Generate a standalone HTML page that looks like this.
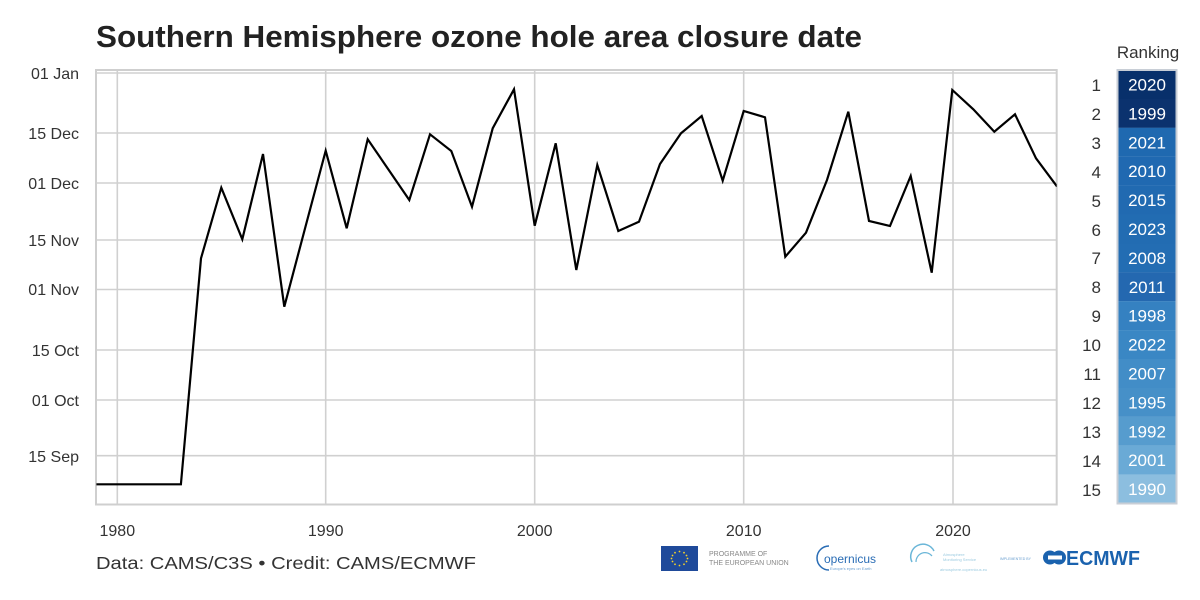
<!DOCTYPE html>
<html><head><meta charset="utf-8"><style>
html,body{margin:0;padding:0;background:#fff;}
svg{display:block;}
text{font-family:"Liberation Sans",Arial,sans-serif;}
</style></head><body>
<svg width="1200" height="600" viewBox="0 0 1200 600" xmlns="http://www.w3.org/2000/svg">
<rect width="1200" height="600" fill="#fff"/>
<text x="96" y="47" font-size="31" font-weight="bold" fill="#222" textLength="766" lengthAdjust="spacingAndGlyphs">Southern Hemisphere ozone hole area closure date</text>

<!-- gridlines -->
<g stroke="#d0d0d0" stroke-width="1.6" fill="none">
<line x1="96" y1="73" x2="1057" y2="73"/>
<line x1="96" y1="133" x2="1057" y2="133"/>
<line x1="96" y1="183" x2="1057" y2="183"/>
<line x1="96" y1="240" x2="1057" y2="240"/>
<line x1="96" y1="289.5" x2="1057" y2="289.5"/>
<line x1="96" y1="350" x2="1057" y2="350"/>
<line x1="96" y1="400" x2="1057" y2="400"/>
<line x1="96" y1="455.7" x2="1057" y2="455.7"/>
<line x1="117.3" y1="70" x2="117.3" y2="504.5"/>
<line x1="325.7" y1="70" x2="325.7" y2="504.5"/>
<line x1="534.7" y1="70" x2="534.7" y2="504.5"/>
<line x1="743.7" y1="70" x2="743.7" y2="504.5"/>
<line x1="953" y1="70" x2="953" y2="504.5"/>
</g>
<rect x="96" y="70" width="960.7" height="434.5" fill="none" stroke="#cfcfcf" stroke-width="2"/>

<!-- y labels -->
<g font-size="16" fill="#333" text-anchor="end">
<text x="79" y="79">01 Jan</text>
<text x="79" y="139">15 Dec</text>
<text x="79" y="189">01 Dec</text>
<text x="79" y="246">15 Nov</text>
<text x="79" y="295">01 Nov</text>
<text x="79" y="356">15 Oct</text>
<text x="79" y="406">01 Oct</text>
<text x="79" y="462">15 Sep</text>
</g>
<!-- x labels -->
<g font-size="16" fill="#333" text-anchor="middle">
<text x="117.3" y="536">1980</text>
<text x="325.7" y="536">1990</text>
<text x="534.7" y="536">2000</text>
<text x="743.7" y="536">2010</text>
<text x="953" y="536">2020</text>
</g>

<clipPath id="pc"><rect x="96" y="70" width="960.7" height="434.5"/></clipPath>
<polyline clip-path="url(#pc)" fill="none" stroke="#000" stroke-width="2.2" stroke-linejoin="miter" points="
96.4,484.3 180.9,484.3 201,258.3 221.3,187.7 242.3,239.3 263,154 284.3,306.7 305.4,227 325.7,150.7 346.7,228.3 367.7,139.3 388.6,169.7 409.3,200 430,134.3 451.3,151 472,206.7 492.7,128.3 514,89.3 534.7,225.7 555.7,143.3 576.3,270 597.3,165 618.3,231 639,221.7 660,164 681,133.3 701.7,116 722.7,180.7 743.7,111 765,117.3 785.3,256.7 806,232.7 827,180 848.3,111.7 869,221 890,226 910.7,176 931.7,272.7 952.3,90 973.3,109.3 994.3,131.7 1015,114.3 1036,158.3 1057,186.5"/>

<!-- footer -->
<text x="96" y="569" font-size="17.5" fill="#333" textLength="380" lengthAdjust="spacingAndGlyphs">Data: CAMS/C3S • Credit: CAMS/ECMWF</text>

<!-- Ranking -->
<text x="1148" y="58" font-size="17" fill="#333" text-anchor="middle">Ranking</text>
<g>
<rect x="1117.5" y="70" width="59" height="29" fill="#08306b"/>
<rect x="1117.5" y="98.9" width="59" height="29" fill="#0b326e"/>
<rect x="1117.5" y="127.8" width="59" height="29" fill="#1f69b0"/>
<rect x="1117.5" y="156.7" width="59" height="29" fill="#2069b1"/>
<rect x="1117.5" y="185.6" width="59" height="29" fill="#216ab1"/>
<rect x="1117.5" y="214.5" width="59" height="29" fill="#226cb2"/>
<rect x="1117.5" y="243.4" width="59" height="29" fill="#236db3"/>
<rect x="1117.5" y="272.3" width="59" height="29" fill="#2468b0"/>
<rect x="1117.5" y="301.2" width="59" height="29" fill="#3581c1"/>
<rect x="1117.5" y="330.1" width="59" height="29" fill="#3a87c4"/>
<rect x="1117.5" y="359" width="59" height="29" fill="#428dc7"/>
<rect x="1117.5" y="387.9" width="59" height="29" fill="#4690c8"/>
<rect x="1117.5" y="416.8" width="59" height="29" fill="#569cce"/>
<rect x="1117.5" y="445.7" width="59" height="29" fill="#6aaad6"/>
<rect x="1117.5" y="474.6" width="59" height="29" fill="#8cbedf"/>
</g>
<rect x="1117.5" y="70" width="59" height="433.5" fill="none" stroke="#c8ced6" stroke-width="2"/>
<g font-size="17" fill="#fff" text-anchor="middle">
<text x="1147" y="90.5">2020</text>
<text x="1147" y="119.4">1999</text>
<text x="1147" y="148.3">2021</text>
<text x="1147" y="177.2">2010</text>
<text x="1147" y="206.1">2015</text>
<text x="1147" y="235">2023</text>
<text x="1147" y="263.9">2008</text>
<text x="1147" y="292.8">2011</text>
<text x="1147" y="321.7">1998</text>
<text x="1147" y="350.6">2022</text>
<text x="1147" y="379.5">2007</text>
<text x="1147" y="408.4">1995</text>
<text x="1147" y="437.3">1992</text>
<text x="1147" y="466.2">2001</text>
<text x="1147" y="495.1">1990</text>
</g>
<g font-size="17" fill="#333" text-anchor="end">
<text x="1101" y="91">1</text>
<text x="1101" y="120">2</text>
<text x="1101" y="149">3</text>
<text x="1101" y="178">4</text>
<text x="1101" y="207">5</text>
<text x="1101" y="236">6</text>
<text x="1101" y="264">7</text>
<text x="1101" y="293">8</text>
<text x="1101" y="322">9</text>
<text x="1101" y="351">10</text>
<text x="1101" y="380">11</text>
<text x="1101" y="409">12</text>
<text x="1101" y="438">13</text>
<text x="1101" y="467">14</text>
<text x="1101" y="496">15</text>
</g>

<!-- logos -->
<rect x="661" y="546" width="37" height="25" fill="#1f4a9a"/>
<g fill="#f5d32a">
<circle cx="679.5" cy="551.5" r="0.9"/><circle cx="684" cy="552.7" r="0.9"/><circle cx="686.5" cy="555.5" r="0.9"/><circle cx="687.5" cy="558.5" r="0.9"/><circle cx="686.5" cy="561.5" r="0.9"/><circle cx="684" cy="564.3" r="0.9"/><circle cx="679.5" cy="565.5" r="0.9"/><circle cx="675" cy="564.3" r="0.9"/><circle cx="672.5" cy="561.5" r="0.9"/><circle cx="671.5" cy="558.5" r="0.9"/><circle cx="672.5" cy="555.5" r="0.9"/><circle cx="675" cy="552.7" r="0.9"/>
</g>
<text x="709" y="556" font-size="7" fill="#888">PROGRAMME OF</text>
<text x="709" y="565" font-size="7" fill="#888">THE EUROPEAN UNION</text>
<path d="M829,546 A12,12 0 0 0 829,570" fill="none" stroke="#2a6db5" stroke-width="1.5"/>
<text x="824" y="563" font-size="12" fill="#2a6db5">opernicus</text>
<text x="830" y="570" font-size="4" fill="#6a9fd0">Europe's eyes on Earth</text>
<path d="M912,562 A12,12 0 0 1 934,551" fill="none" stroke="#6ab6d8" stroke-width="1.5"/>
<path d="M916,562 A9,9 0 0 1 932,556" fill="none" stroke="#6ab6d8" stroke-width="1.2"/>
<text x="943" y="556" font-size="4" fill="#9ccbe0">Atmosphere</text>
<text x="943" y="561" font-size="4" fill="#9ccbe0">Monitoring Service</text>
<text x="940" y="571" font-size="4" fill="#9ccbe0">atmosphere.copernicus.eu</text>
<text x="1000" y="560" font-size="3.5" fill="#6a9fd0">IMPLEMENTED BY</text>
<circle cx="1050" cy="557.5" r="7" fill="#1a62ae"/>
<circle cx="1059" cy="557.5" r="7" fill="#1a62ae"/>
<rect x="1048" y="555.5" width="14" height="4" fill="#fff"/>
<text x="1066" y="565" font-size="20" font-weight="bold" fill="#1a62ae" textLength="74" lengthAdjust="spacingAndGlyphs">ECMWF</text>
</svg>
</body></html>
